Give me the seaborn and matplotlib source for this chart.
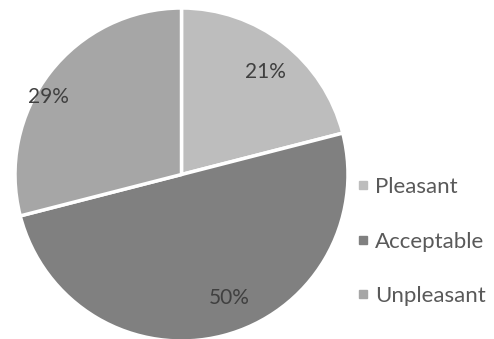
import matplotlib
matplotlib.use("Agg")
import matplotlib.pyplot as plt
import seaborn as sns
import numpy as np
from matplotlib.lines import Line2D

categories = ["Pleasant", "Acceptable", "Unpleasant"]
values = [21, 50, 29]
pct_labels = ["21%", "50%", "29%"]
colors = ["#bdbdbd", "#808080", "#a6a6a6"]

sns.set_theme(style="white")
plt.rcParams['font.family'] = ['Lato', 'DejaVu Sans']

W, H = 494, 339
fig = plt.figure(figsize=(W / 100, H / 100), dpi=100)
cx, cy, r = 181.5, 174.5, 166.5
ax = fig.add_axes([(cx - r) / W, (H - cy - r) / H, 2 * r / W, 2 * r / H])
wedges, texts, autotexts = ax.pie(values, colors=colors, startangle=90, counterclock=False,
                                  labels=None, autopct=lambda p: "", radius=1,
                                  wedgeprops=dict(edgecolor="white", linewidth=2.5))
ax.set_xlim(-1, 1)
ax.set_ylim(-1, 1)
ax.set_aspect("auto")
ax.axis("off")

# label pixel positions (centers) from the reference
label_px = [(265, 72), (229, 298), (48, 97)]
for t, lab, (px, py) in zip(autotexts, pct_labels, label_px):
    t.set_text(lab)
    t.set_position(((px - cx) / r, (cy - py) / r))
    t.set_fontsize(15)
    t.set_color("#404040")
    t.set_ha("center")
    t.set_va("center")

handles = [Line2D([0], [0], marker="s", linestyle="none", markersize=6,
                  markerfacecolor=c, markeredgecolor=c) for c in colors]
fig.legend(handles, categories, loc="center left", bbox_to_anchor=(352 / W, (H - 241.5) / H),
           frameon=False, fontsize=16, labelcolor="#595959", labelspacing=1.55,
           handletextpad=0.1, handlelength=0.95, borderaxespad=0, borderpad=0)

fig.savefig("out.png", dpi=100)
